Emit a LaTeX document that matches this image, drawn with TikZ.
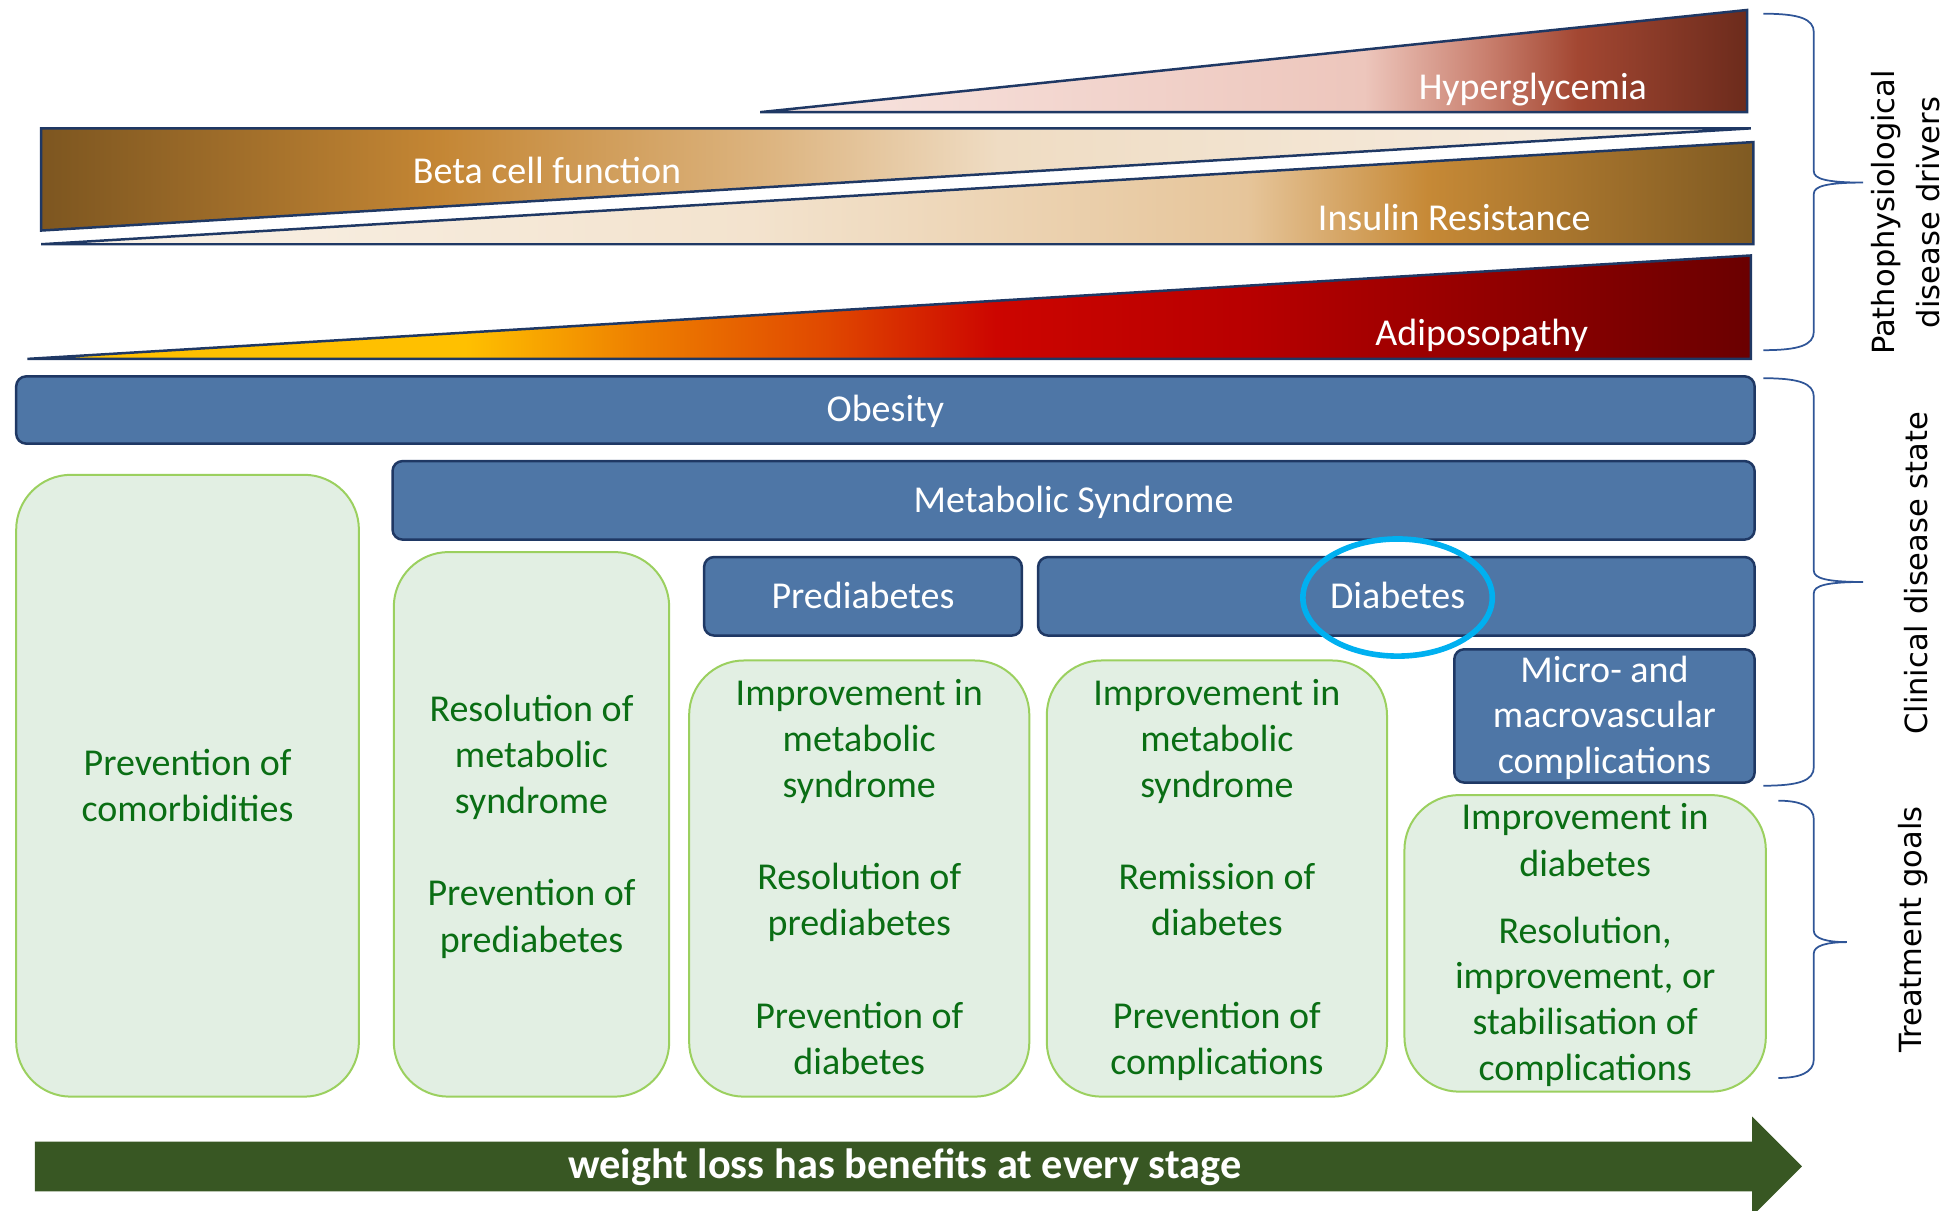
\documentclass[tikz,border=0pt]{standalone}
\usepackage{fontspec}
\setmainfont{Carlito}
\newfontfamily\sidefont{DejaVu Sans}
\usepackage{xcolor}
\usepackage{tikz}

\definecolor{wedgeline}{HTML}{1F3864}
\definecolor{stagefill}{HTML}{4E76A6}
\definecolor{stageline}{HTML}{1F3864}
\definecolor{goalfill}{HTML}{E2EFE3}
\definecolor{goalline}{HTML}{9BD05F}
\definecolor{goaltext}{HTML}{0A6E14}
\definecolor{arrowgreen}{HTML}{385723}
\definecolor{ringblue}{HTML}{00B0F0}
\definecolor{bracketline}{HTML}{2F5597}

\definecolor{hyA}{HTML}{F8E6E2}
\definecolor{hyB}{HTML}{EDC6BC}
\definecolor{hyC}{HTML}{C97F6E}
\definecolor{hyD}{HTML}{A34732}
\definecolor{hyE}{HTML}{6C2B1C}
\definecolor{beA}{HTML}{7D5620}
\definecolor{beB}{HTML}{C48634}
\definecolor{beC}{HTML}{DDB581}
\definecolor{beD}{HTML}{EFDCC3}
\definecolor{beE}{HTML}{F8F0E6}
\definecolor{inA}{HTML}{F9F2E8}
\definecolor{inB}{HTML}{F3E3CE}
\definecolor{inC}{HTML}{E6C59A}
\definecolor{inD}{HTML}{C68936}
\definecolor{inE}{HTML}{7F5A22}
\definecolor{adA}{HTML}{FFC000}
\definecolor{adB}{HTML}{EE8000}
\definecolor{adC}{HTML}{E04800}
\definecolor{adD}{HTML}{CC0500}
\definecolor{adE}{HTML}{B80000}
\definecolor{adF}{HTML}{6A0000}

\pgfdeclarehorizontalshading{hyperfade}{100bp}{color(0bp)=(hyA); color(25bp)=(hyA); color(55.6bp)=(hyB); color(61.8bp)=(hyC); color(66.4bp)=(hyD); color(75bp)=(hyE); color(100bp)=(hyE)}
\pgfdeclarehorizontalshading{betafade}{100bp}{color(0bp)=(beA); color(25bp)=(beA); color(36.6bp)=(beB); color(46.4bp)=(beC); color(53bp)=(beD); color(75bp)=(beE); color(100bp)=(beE)}
\pgfdeclarehorizontalshading{insulinfade}{100bp}{color(0bp)=(inA); color(25bp)=(inA); color(45.7bp)=(inB); color(60.2bp)=(inC); color(65.5bp)=(inD); color(75bp)=(inE); color(100bp)=(inE)}
\pgfdeclarehorizontalshading{adipofade}{100bp}{color(0bp)=(adA); color(37.7bp)=(adA); color(42.7bp)=(adB); color(48.2bp)=(adC); color(53.1bp)=(adD); color(60.4bp)=(adE); color(75bp)=(adF); color(100bp)=(adF)}

\newcommand{\txtsize}{\fontsize{30.5}{37}\selectfont}
\newcommand{\boldsize}{\fontsize{34}{40}\selectfont\bfseries}
\newcommand{\sidesize}{\sidefont\fontsize{24.5}{30}\selectfont}

% #1 tip x, #2 spine x, #3 point x, #4 top y, #5 middle y, #6 bottom y
\newcommand{\curly}[6]{
	\draw[bracket] (#1,#4) .. controls (#2-12,#4) and (#2,#4+4) .. (#2,#4+15)
		-- (#2,#5-9) .. controls (#2,#5-3) and (#2+10,#5) .. (#3,#5)
		.. controls (#2+10,#5) and (#2,#5+3) .. (#2,#5+9)
		-- (#2,#6-15) .. controls (#2,#6-4) and (#2-12,#6) .. (#1,#6);
}

% #1 name, #2 centre x, #3 style, #4 list of baseline/text
\newcommand{\textlines}[4]{
	\foreach \yb/\gline [count=\i] in {#4}
		\node[#3] (#1-\i) at (#2,\yb) {\gline};
}

\begin{document}
\begin{tikzpicture}[x=1pt,y=-1pt,
	wedge/.style={draw=wedgeline,line width=2pt},
	wedgelabel/.style={text=white,anchor=base,inner sep=0pt,font=\txtsize},
	stagebox/.style={draw=stageline,line width=2pt,fill=stagefill,rounded corners=8pt},
	stagelabel/.style={text=white,anchor=base,inner sep=0pt,font=\txtsize},
	goalbox/.style={draw=goalline,line width=1.6pt,fill=goalfill,rounded corners=44pt},
	goallabel/.style={text=goaltext,anchor=base,inner sep=0pt,font=\txtsize},
	ring/.style={draw=ringblue,line width=4.5pt},
	bracket/.style={draw=bracketline,line width=1.4pt},
	sidelabel/.style={anchor=base,inner sep=0pt,rotate=90,font=\sidesize}]

	\useasboundingbox (0,0) rectangle (1568,971);
	\clip (0,0) rectangle (1568,971);

	% disease drivers
	\shade[wedge,shading=hyperfade]		(610,90) -- (1402,8) -- (1402,90) -- cycle;
	\shade[wedge,shading=betafade]		(33,103) -- (1405,103) -- (33,185) -- cycle;
	\shade[wedge,shading=insulinfade]	(33,196) -- (1407,114) -- (1407,196) -- cycle;
	\shade[wedge,shading=adipofade]		(22,288) -- (1405,205) -- (1405,288) -- cycle;

	\node[wedgelabel] (hyper)	at (1230,80)	{Hyperglycemia};
	\node[wedgelabel] (beta)	at (439,147)	{Beta cell function};
	\node[wedgelabel] (insulin)	at (1167,185)	{Insulin Resistance};
	\node[wedgelabel] (adipo)	at (1189,277)	{Adiposopathy};

	% clinical states
	\draw[stagebox] (13,302) rectangle (1408,356);
	\draw[stagebox] (315,370) rectangle (1408,433);
	\draw[stagebox] (565,447) rectangle (820,510);
	\draw[stagebox] (833,447) rectangle (1408,510);
	\draw[stagebox] (1167,521) rectangle (1408,628);

	\node[stagelabel] (obesity)		at (710.5,338.5)	{Obesity};
	\node[stagelabel] (metsyn)		at (861.5,411.5)	{Metabolic Syndrome};
	\node[stagelabel] (prediab)		at (692.5,488)		{Prediabetes};
	\node[stagelabel] (diab)		at (1121.5,488)		{Diabetes};
	\textlines{micro}{1287.5}{stagelabel}{548/Micro- and, 584/macrovascular, 621/complications}

	% treatment goals
	\draw[goalbox] (13,381) rectangle (288,880);
	\draw[goalbox] (316,443) rectangle (537,880);
	\draw[goalbox] (553,530) rectangle (826,880);
	\draw[goalbox] (840,530) rectangle (1113,880);
	\draw[goalbox] (1127,638) rectangle (1417,876);

	\textlines{goalA}{150.5}{goallabel}{622/Prevention of, 659/comorbidities}
	\textlines{goalB}{426.5}{goallabel}{579/Resolution of, 616/metabolic, 653/syndrome, 727/Prevention of, 764/prediabetes}
	\textlines{goalC}{689.5}{goallabel}{566/Improvement in, 603/metabolic, 640/syndrome, 714/Resolution of, 751/prediabetes, 825/Prevention of, 862/diabetes}
	\textlines{goalD}{976.5}{goallabel}{566/Improvement in, 603/metabolic, 640/syndrome, 714/Remission of, 751/diabetes, 825/Prevention of, 862/complications}
	\textlines{goalE}{1272}{goallabel}{666/Improvement in, 703/diabetes, 757/{Resolution,}, 793/{improvement, or}, 830/stabilisation of, 867/complications}

	\draw[ring] (1121.5,479.5) ellipse [x radius=76,y radius=47];

	% benefit arrow
	\fill[arrowgreen] (28,916) -- (1406,916) -- (1406,896) -- (1446,936) -- (1406,976)
		-- (1406,956) -- (28,956) -- cycle;
	\node[stagelabel,font=\boldsize] (benefit) at (726,946) {weight loss has benefits at every stage};

	% brackets
	\curly{1415}{1455.5}{1495}{11}{146.5}{281}
	\curly{1415}{1455.5}{1495}{303.5}{467}{630.5}
	\curly{1427}{1455.5}{1482}{642.5}{756}{865}

	\node[sidelabel] (drivers-1)	at (1520,170.5)		{Pathophysiological};
	\node[sidelabel] (drivers-2)	at (1556.5,170.5)	{disease drivers};
	\node[sidelabel] (clinical)		at (1547,460)		{Clinical disease state};
	\node[sidelabel] (goals)		at (1542,746)		{Treatment goals};
\end{tikzpicture}
\end{document}
